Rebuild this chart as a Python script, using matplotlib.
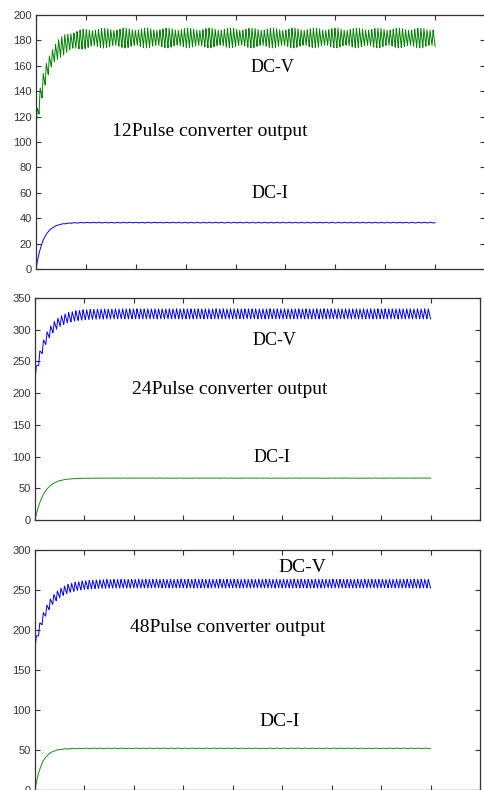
import numpy as np
import matplotlib
matplotlib.use("Agg")
import matplotlib.pyplot as plt

# ---- data ----
titles = ["12Pulse converter output", "24Pulse converter output", "48Pulse converter output"]
v_start = [113, 150, 110]        # first sample of DC-V
v_jump = [113, 225, 180]         # DC-V right after start
v_ss = [182, 325, 258]           # DC-V steady mean
v_tau = [0.022, 0.024, 0.027]    # DC-V rise time constant (s)
v_ripple = [7.0, 8.0, 5.5]       # DC-V ripple half-amplitude
ripple_cycles = [130, 110, 112]  # ripple cycles across the trace
i_ss = [36.5, 66.0, 52.0]        # DC-I steady value
i_tau = [0.015, 0.018, 0.014]    # DC-I time constant (s)
i_ripple = [0.25, 0.2, 0.35]
y_max = [200, 350, 300]
y_step = [20, 50, 50]
v_colors = ["#008000", "#0000ff", "#0000ff"]
i_colors = ["#0000ff", "#1a8a1a", "#1a8a1a"]
t_end = 0.8
x_ticks = np.arange(0, 0.91, 0.1)

# ---- layout (pixels) ----
W, H = 484, 790
boxes = [
    (36, 15, 485, 269),
    (35, 298, 480, 520),
    (35, 550, 480, 790),
]
dcv_pos = [(272, 68), (274, 340), (302, 567)]
title_pos = [(112, 131), (132, 390), (130, 628)]
dci_pos = [(270, 193), (272, 458), (280, 722)]
label_size = [13, 13, 14]
title_size = [14, 14, 14]

fig = plt.figure(figsize=(W / 100, H / 100), dpi=100)
t = np.linspace(0, t_end, 6000)

for k in range(3):
    x0, y0, x1, y1 = boxes[k]
    ax = fig.add_axes([x0 / W, 1 - y1 / H, (x1 - x0) / W, (y1 - y0) / H])
    f = ripple_cycles[k] / t_end
    phase = (f * t) % 1.0
    w = 0.35
    saw = np.where(phase < w, phase / w, (1 - phase) / (1 - w)) * 2 - 1
    mod = 1 + (0.15 * np.sin(2 * np.pi * 23.7 * t) if k == 0 else 0.0)
    v = v_ss[k] - (v_ss[k] - v_jump[k]) * np.exp(-t / v_tau[k]) + v_ripple[k] * mod * saw
    v[0] = v_start[k]
    i = i_ss[k] * (1 - np.exp(-t / i_tau[k])) + i_ripple[k] * np.sin(2 * np.pi * f * 0.5 * t) * (1 - np.exp(-t / 0.05))
    ax.plot(t, v, color=v_colors[k], lw=0.7)
    ax.plot(t, i, color=i_colors[k], lw=0.7)
    ax.set_xlim(0, 0.9)
    ax.set_ylim(0, y_max[k])
    ax.set_xticks(x_ticks)
    ax.set_xticklabels([])
    ax.set_yticks(np.arange(0, y_max[k] + 1, y_step[k]))
    ax.tick_params(direction="in", length=3.5, width=0.8, top=True, right=True,
                   color="#333333", labelsize=8, labelcolor="#333333", pad=3)
    for lab in ax.get_yticklabels():
        lab.set_fontfamily("Liberation Sans")
    for s in ax.spines.values():
        s.set_color("#333333")
        s.set_linewidth(0.9)
    fig.text(dcv_pos[k][0] / W, 1 - dcv_pos[k][1] / H, "DC-V", ha="center", va="center",
             fontfamily="Liberation Serif", fontsize=label_size[k], color="black")
    fig.text(title_pos[k][0] / W, 1 - title_pos[k][1] / H, titles[k], ha="left", va="center",
             fontfamily="Liberation Serif", fontsize=title_size[k], color="black")
    fig.text(dci_pos[k][0] / W, 1 - dci_pos[k][1] / H, "DC-I", ha="center", va="center",
             fontfamily="Liberation Serif", fontsize=label_size[k], color="black")

fig.savefig("out.png", dpi=100)
